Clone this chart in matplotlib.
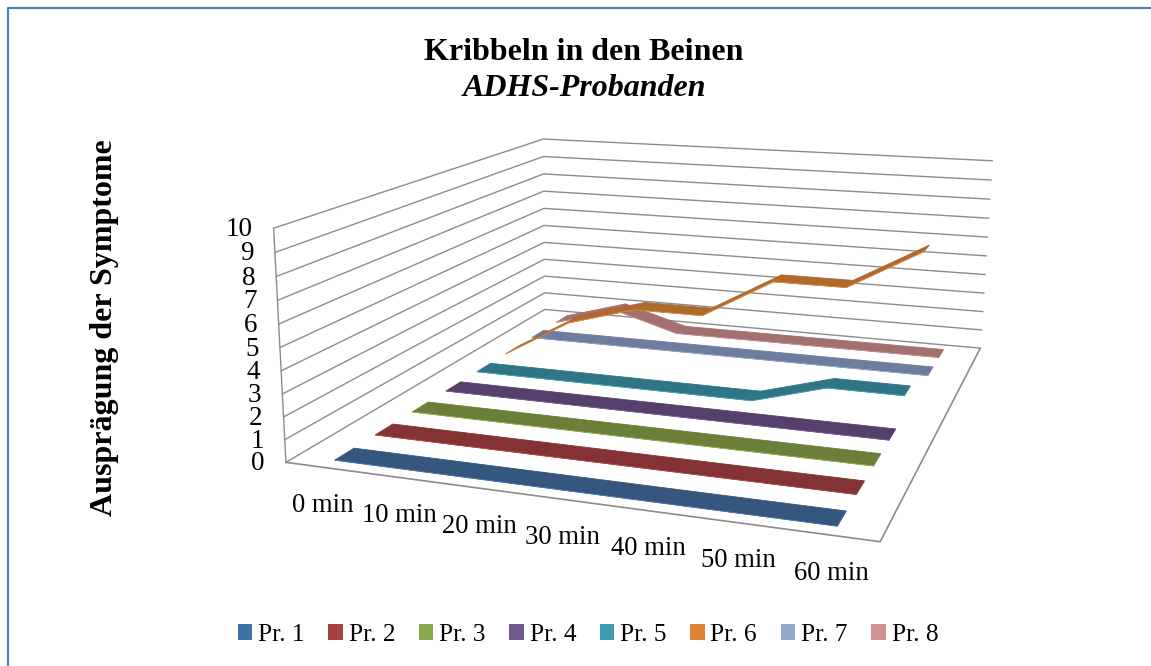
""" Kribbeln in den Beinen - 3D line chart, ADHS group """

import matplotlib
matplotlib.use("Agg")
import matplotlib.pyplot as plt
from matplotlib.patches import Patch, Polygon
import numpy as np

plt.rcParams['font.family'] = ['Liberation Serif', 'DejaVu Serif']

categories = ['0 min', '10 min', '20 min', '30 min', '40 min', '50 min', '60 min']
series_names = ['Pr. 1', 'Pr. 2', 'Pr. 3', 'Pr. 4', 'Pr. 5', 'Pr. 6', 'Pr. 7', 'Pr. 8']
z_ticks = [0, 1, 2, 3, 4, 5, 6, 7, 8, 9, 10]

pr1 = [0, 0, 0, 0, 0, 0, 0]
pr2 = [0, 0, 0, 0, 0, 0, 0]
pr3 = [0, 0, 0, 0, 0, 0, 0]
pr4 = [0, 0, 0, 0, 0, 0, 0]
pr5 = [0, 0, 0, 0, 0, 1, 1]
pr6 = [0, 2, 3, 3, 5, 5, 7]
pr7 = [0, 0, 0, 0, 0, 0, 0]
pr8 = [0, 1, 0, 0, 0, 0, 0]
all_series = [pr1, pr2, pr3, pr4, pr5, pr6, pr7, pr8]

top_colors = ['#35567F', '#833333', '#6B7F38', '#573F6C', '#2F7586', '#AD6A2D', '#6E7CA0', '#A36F6F']
edge_colors = ['#4A7EBB', '#BE4B48', '#98B954', '#7D60A0', '#46AAC5', '#F08C3A', '#93A9CF', '#D19392']
legend_colors = ['#3F6FA8', '#A84240', '#8AA84D', '#70578F', '#3F9AB3', '#DE8238', '#93A9CF', '#D19392']
grid_color = '#8C8C8C'
ribbon_half = 0.029

# box corners as seen on the page: (x, depth, value) -> pixel
box_pts = [(0, 0, 0), (1, 0, 0), (1, 1, 0), (0, 1, 0), (0, 0, 10), (0, 1, 10), (1, 1, 10)]
page_pts = [(286.7, 462.3), (880, 542), (980.7, 347.7), (544, 309.7), (273, 228), (544, 139), (992, 161)]

rows = []
for (x, y, z), (u, v) in zip(box_pts, page_pts):
    rows.append([x, y, z, 1, 0, 0, 0, 0, -u*x, -u*y, -u*z, -u])
    rows.append([0, 0, 0, 0, x, y, z, 1, -v*x, -v*y, -v*z, -v])
P = np.linalg.svd(np.array(rows, dtype=float))[2][-1].reshape(3, 4)


def project(x, y, z):
    """ perspective projection of a point in the chart box """
    h = P @ np.array([x, y, z, 1.0])
    return h[0]/h[2], h[1]/h[2]


fig = plt.figure(figsize=(11.51, 6.66), dpi=100)
ax = fig.add_axes([0, 0, 1, 1])
ax.set_xlim(0, 1151)
ax.set_ylim(666, 0)
ax.axis('off')

# frame of the chart area, only top and left are on the page
ax.plot([1151, 8, 8], [8, 8, 666], color='#4F81BD', lw=1.6, clip_on=False)

# walls
for val in z_ticks:
    wall = [project(0, 0, val), project(0, 1, val), project(1, 1, val)]
    ax.plot(*zip(*wall), color=grid_color, lw=1.0, zorder=1)
ax.plot(*zip(project(0, 0, 0), project(0, 0, 10)), color=grid_color, lw=1.0, zorder=1)
ax.plot(*zip(project(0, 0, 0), project(1, 0, 0), project(1, 1, 0)), color=grid_color, lw=1.2, zorder=1)

# ribbons, back to front
n_cat = len(categories)
n_ser = len(all_series)
for s in range(n_ser - 1, -1, -1):
    depth = (s + 0.5)/n_ser
    xs = [(i + 0.5)/n_cat for i in range(n_cat)]
    vals = all_series[s]
    zo = 10 + (n_ser - s)
    for i in range(n_cat - 1):
        quad = [project(xs[i], depth - ribbon_half, vals[i]),
                project(xs[i+1], depth - ribbon_half, vals[i+1]),
                project(xs[i+1], depth + ribbon_half, vals[i+1]),
                project(xs[i], depth + ribbon_half, vals[i])]
        ax.add_patch(Polygon(quad, closed=True, facecolor=top_colors[s],
                             edgecolor=top_colors[s], lw=0.6, zorder=zo))
    front = [project(xs[i], depth - ribbon_half, vals[i]) for i in range(n_cat)]
    ax.plot(*zip(*front), color=edge_colors[s], lw=0.5, zorder=zo)

# axis labels
for val in z_ticks:
    px, py = project(0, 0, val)
    ax.text(px - 21, py + 1.5, str(val), ha='right', va='center', fontsize=19.5)
for i, cat in enumerate(categories):
    px, py = project((i + 0.5)/n_cat, 0, 0)
    ax.text(px, py + 38, cat, ha='center', va='center', fontsize=19.2)

ax.text(584, 52, 'Kribbeln in den Beinen', ha='center', va='center', fontsize=23, fontweight='bold')
ax.text(584, 88, 'ADHS-Probanden', ha='center', va='center', fontsize=23, fontweight='bold', style='italic')
ax.text(105, 328, 'Ausprägung der Symptome', ha='center', va='center', rotation=90,
        fontsize=23, fontweight='bold')

handles = [Patch(facecolor=c, edgecolor='none') for c in legend_colors]
ax.legend(handles, series_names, ncol=8, loc='center', bbox_to_anchor=(588/1151, 1 - 635/666),
          frameon=False, fontsize=18.3, handlelength=0.57, handleheight=0.57,
          handletextpad=0.23, columnspacing=0.93)

fig.savefig('out.png', dpi=100)
